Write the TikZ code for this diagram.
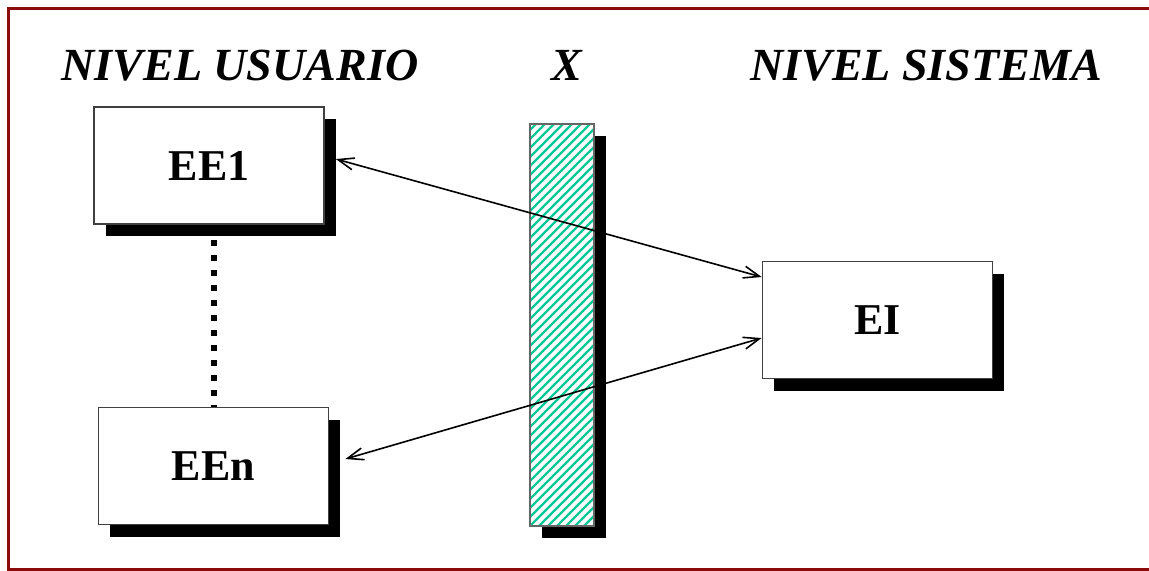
\documentclass[tikz,border=0pt]{standalone}
\usepackage{fontspec}
\setmainfont{Liberation Serif}
\usetikzlibrary{arrows.meta,shadows,calc}
\definecolor{marco}{RGB}{140,10,10}
\definecolor{rayado}{RGB}{0,200,150}
\tikzset{%
  tipE/.tip={Straight Barb[length=8pt,width=6pt]},
  caja/.style={draw=black!75, line width=0.8pt, fill=white,
    minimum width=115pt, minimum height=58.5pt,
    font=\fontsize{22}{26}\selectfont\bfseries,
    general shadow={fill=black, shadow xshift=5.75pt, shadow yshift=-6pt}},
  titulo/.style={anchor=base, font=\fontsize{23}{28}\selectfont\bfseries\itshape},
  flecha/.style={line width=0.8pt, tipE-tipE}
}
\begin{document}
\begin{tikzpicture}[x=0.5pt,y=-0.5pt]
\useasboundingbox (0,0) rectangle (1149,570);
\draw[marco, line width=1.5pt] (8,8) rectangle (1170,569);
\node[titulo] (nu) at (240,80) {NIVEL USUARIO};
\node[titulo] (nx) at (567,80) {X};
\node[titulo] (ns) at (926,80) {NIVEL SISTEMA};
\node[caja] (ee1) at (209,165.5) {EE1};
\node[caja] (een) at (213.5,466) {EEn};
\node[caja] (ei) at (877.5,320) {EI};
% barrera
\node[draw=black!60, line width=0.6pt, fill=white, minimum width=32pt, minimum height=201pt,
  general shadow={fill=black, shadow xshift=5.75pt, shadow yshift=-6pt},
  path picture={
    \foreach \k in {-46,...,8}
      \draw[rayado, line width=1.1pt] ($(path picture bounding box.south west)+(\k*4.5pt,0)$) -- ++(220pt,220pt);
  }] (bx) at (562,325) {};
\draw[line width=3pt, dash pattern=on 3pt off 4.5pt] (een.north |- ee1.south) -- (een.north);
\draw[flecha] ([xshift=5.5pt,yshift=3.25pt]ee1.east) -- ([yshift=21.5pt]ei.west);
\draw[flecha] ([xshift=8pt,yshift=3.5pt]een.east) -- ([yshift=-9pt]ei.west);
\end{tikzpicture}
\end{document}
